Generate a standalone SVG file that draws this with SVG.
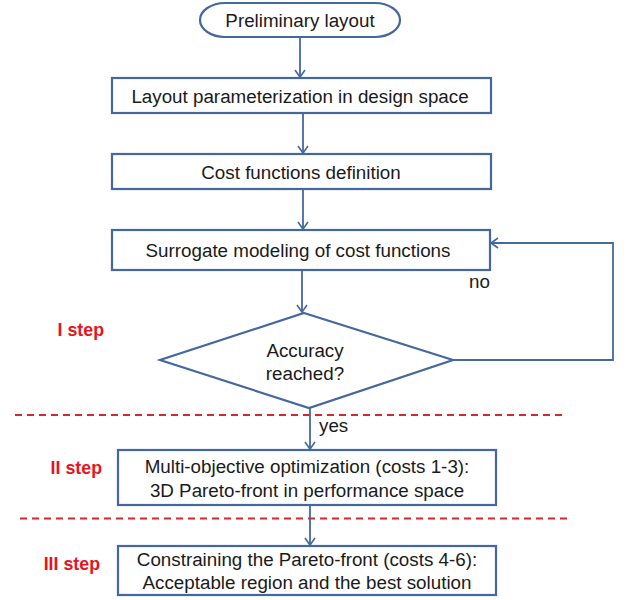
<svg xmlns="http://www.w3.org/2000/svg" width="630" height="600" viewBox="0 0 630 600">
<defs>
<marker id="arr" markerUnits="userSpaceOnUse" markerWidth="14" markerHeight="14" refX="10" refY="6" orient="auto">
<path d="M3,1 L10,6 L3,11" fill="none" stroke="#4669A0" stroke-width="1.6"/>
</marker>
<style>
.box{fill:#fff;stroke:#44679E;stroke-width:2.2}
.t{font-family:"Liberation Sans",Arial,sans-serif;font-size:18.8px;fill:#1a1a1a;text-anchor:middle}
.l{font-family:"Liberation Sans",Arial,sans-serif;font-size:18.8px;fill:#1a1a1a}
.step{font-family:"Liberation Sans",Arial,sans-serif;font-size:17.8px;font-weight:bold;fill:#E8141B;text-anchor:end}
.dash{stroke:#D9262E;stroke-width:2;stroke-dasharray:7 5;fill:none}
.c{fill:none;stroke:#4669A0;stroke-width:1.8}
</style>
</defs>
<rect width="630" height="600" fill="#fff"/>
<g id="separators">
<line class="dash" x1="15" y1="415" x2="566" y2="415"/>
<line class="dash" x1="20" y1="518.5" x2="571" y2="518.5"/>
</g>
<g id="step-labels">
<text class="step" x="104" y="336">I step</text>
<text class="step" x="102" y="474">II step</text>
<text class="step" x="100" y="570">III step</text>
</g>
<g id="connectors">
<line class="c" x1="300" y1="37" x2="300" y2="77" marker-end="url(#arr)"/>
<line class="c" x1="303" y1="113" x2="303" y2="153" marker-end="url(#arr)"/>
<line class="c" x1="303" y1="189" x2="303" y2="229" marker-end="url(#arr)"/>
<line class="c" x1="302" y1="270" x2="302" y2="312" marker-end="url(#arr)"/>
<polyline class="c" points="453,360 613,360 613,243 491,243" marker-end="url(#arr)"/>
<line class="c" x1="310" y1="408" x2="310" y2="449" marker-end="url(#arr)"/>
<line class="c" x1="310" y1="505" x2="310" y2="545" marker-end="url(#arr)"/>
<text class="l" x="469" y="288">no</text>
<text class="l" x="319" y="432">yes</text>
</g>
<g id="start">
<rect class="box" x="200" y="3" width="200" height="34" rx="25" ry="17"/>
<text class="t" x="300" y="27">Preliminary layout</text>
</g>
<g id="parameterization">
<rect class="box" x="112" y="78" width="379" height="35"/>
<text class="t" x="300" y="103">Layout parameterization in design space</text>
</g>
<g id="cost-functions">
<rect class="box" x="112" y="154" width="379" height="35"/>
<text class="t" x="301" y="179">Cost functions definition</text>
</g>
<g id="surrogate">
<rect class="box" x="112" y="230" width="378" height="40"/>
<text class="t" x="298" y="257">Surrogate modeling of cost functions</text>
</g>
<g id="accuracy">
<polygon class="box" points="304,313 453,360 309,408 160,360"/>
<text class="t" x="305" y="357">Accuracy</text>
<text class="t" x="305" y="380">reached?</text>
</g>
<g id="multi-objective">
<rect class="box" x="118" y="450" width="378" height="55"/>
<text class="t" x="307" y="473">Multi-objective optimization (costs 1-3):</text>
<text class="t" x="307" y="497">3D Pareto-front in performance space</text>
</g>
<g id="constraining">
<rect class="box" x="118" y="546" width="378" height="49"/>
<text class="t" x="307" y="566">Constraining the Pareto-front (costs 4-6):</text>
<text class="t" x="307" y="589">Acceptable region and the best solution</text>
</g>
</svg>
